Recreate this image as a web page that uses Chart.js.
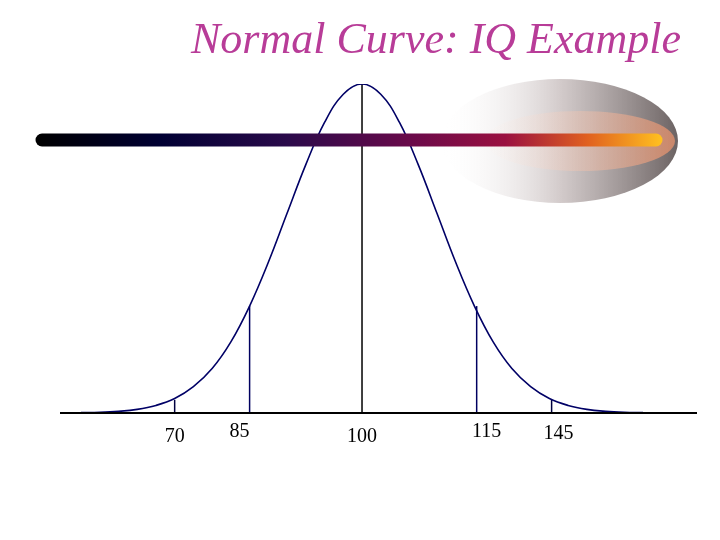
<!DOCTYPE html>
<html><head><meta charset="utf-8">
<script src="https://cdn.jsdelivr.net/npm/chart.js@4/dist/chart.umd.min.js"></script>
<style>html,body{margin:0;padding:0;background:#fff}#c{display:block}</style>
</head><body><canvas id="c" width="720" height="540"></canvas>
<script>
// Curve: x in standard-deviation units, y relative to peak height
const curveX = [-3.75,-3.5,-3.25,-3,-2.75,-2.5,-2.25,-2,-1.75,-1.5,-1.25,-1,-0.75,-0.5,-0.25,0,0.25,0.5,0.75,1,1.25,1.5,1.75,2,2.25,2.5,2.75,3,3.25,3.5,3.75];
const curveY = [0.001,0.002,0.005,0.011,0.023,0.044,0.080,0.135,0.216,0.325,0.458,0.607,0.755,0.883,0.969,1,0.969,0.883,0.755,0.607,0.458,0.325,0.216,0.135,0.080,0.044,0.023,0.011,0.005,0.002,0.001];
const tickPos = [-2.5,-1.5,0,1.53,2.53];
const tickLabels = ['70','85','100','115','145'];
const tickTop = [0.04,0.325,1,0.325,0.04];
const tickColors = ['#000040','#000060','#000000','#000060','#000040'];

const ds = [{data: curveX.map((x,i)=>({x, y: curveY[i]})), borderColor:'#000066', borderWidth:1.6, pointRadius:0, tension:0.4, cubicInterpolationMode:'default', fill:false}];
tickPos.forEach((p,i)=>ds.push({data:[{x:p,y:0},{x:p,y:tickTop[i]}], borderColor:tickColors[i], borderWidth:1.5, pointRadius:0, fill:false}));

const deco = {
  id:'deco',
  beforeDatasetsDraw(chart){
    const c = chart.ctx;
    c.save();
    const g = c.createLinearGradient(440,0,680,0);
    g.addColorStop(0,'rgba(255,255,255,0)');
    g.addColorStop(0.5,'rgba(200,190,190,0.8)');
    g.addColorStop(1,'rgba(90,80,80,0.9)');
    c.fillStyle = g;
    c.beginPath(); c.ellipse(560,141,118,62,0,0,Math.PI*2); c.fill();
    const g2 = c.createLinearGradient(460,0,670,0);
    g2.addColorStop(0,'rgba(255,255,255,0)');
    g2.addColorStop(1,'rgba(240,150,110,0.7)');
    c.fillStyle = g2;
    c.beginPath(); c.ellipse(580,141,95,30,0,0,Math.PI*2); c.fill();
    c.restore();
  },
  afterDatasetsDraw(chart){
    const c = chart.ctx, xs = chart.scales.x, ys = chart.scales.y;
    c.save();
    c.strokeStyle='#000'; c.lineWidth=2;
    c.beginPath(); c.moveTo(60, ys.getPixelForValue(0)); c.lineTo(697, ys.getPixelForValue(0)); c.stroke();
    const g = c.createLinearGradient(36,0,662,0);
    g.addColorStop(0,'#000000'); g.addColorStop(0.2,'#000033'); g.addColorStop(0.4,'#2a0a4a');
    g.addColorStop(0.6,'#6a0a4a'); g.addColorStop(0.75,'#9a1040'); g.addColorStop(0.88,'#e06020');
    g.addColorStop(1,'#ffc020');
    c.strokeStyle=g; c.lineWidth=13; c.lineCap='round';
    c.beginPath(); c.moveTo(42,140); c.lineTo(656,140); c.stroke();
    c.fillStyle='#000'; c.font='20px "Liberation Serif"'; c.textAlign='center'; c.textBaseline='middle';
    const dx=[0,-10,0,10,7], dy=[437,432,437,432,434];
    tickLabels.forEach((t,i)=>c.fillText(t, xs.getPixelForValue(tickPos[i])+dx[i], dy[i]));
    c.fillStyle='#b83c98'; c.font='italic 44px "Liberation Serif"'; c.textAlign='right';
    c.fillText('Normal Curve: IQ Example', 681, 41);
    c.restore();
  }
};

new Chart(document.getElementById('c'), {
  type:'line',
  data:{datasets:ds},
  options:{
    responsive:false, animation:false,
    layout:{padding:{left:60,right:23,top:84,bottom:127}},
    plugins:{legend:{display:false}, tooltip:{enabled:false}},
    scales:{
      x:{type:'linear', min:-4.03, max:4.47, display:false},
      y:{min:0, max:1, display:false}
    }
  },
  plugins:[deco]
});
</script></body></html>
